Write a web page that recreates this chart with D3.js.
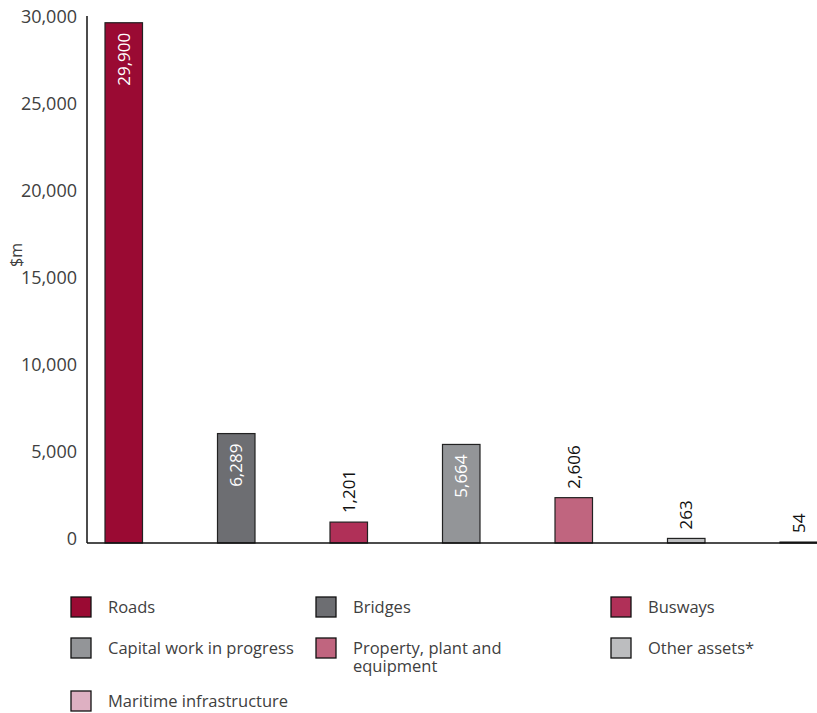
<!DOCTYPE html>
<html>
<head>
<meta charset="utf-8">
<script src="https://cdn.jsdelivr.net/npm/d3@7"></script>
<style>
  html, body { margin: 0; padding: 0; background: #fff; }
  svg { display: block; font-family: "Open Sans", "Noto Sans", sans-serif; }
</style>
</head>
<body>
<svg id="chart" width="817" height="713"></svg>
<script>
// Asset categories and their values ($m)
const categories = [
  "Roads",
  "Bridges",
  "Busways",
  "Capital work in progress",
  "Property, plant and equipment",
  "Other assets*",
  "Maritime infrastructure"
];
const values = [29900, 6289, 1201, 5664, 2606, 263, 54];
const colors = ["#9a0a33", "#6d6e72", "#b03058", "#939598", "#c0657f", "#bcbdbf", "#deb0c2"];
// Labels that sit inside the bar (white) vs above it (dark)
const labelInside = [true, true, false, true, false, false, false];
const yTicks = [0, 5000, 10000, 15000, 20000, 25000, 30000];
const yAxisTitle = "$m";

// Legend label lines per entry
const legendLines = [
  ["Roads"],
  ["Bridges"],
  ["Busways"],
  ["Capital work in progress"],
  ["Property, plant and", "equipment"],
  ["Other assets*"],
  ["Maritime infrastructure"]
];

const svg = d3.select("#chart");
const fmt = d3.format(",");

const x0 = 87, yBase = 543, yTop = 21;

const x = d3.scaleBand()
  .domain(categories)
  .range([x0, 835.5])
  .paddingInner(2 / 3)
  .paddingOuter(0.16);

const y = d3.scaleLinear().domain([0, 30000]).range([yBase, yTop]);

// Y axis: labels only, with a solid vertical line
const yAxis = d3.axisLeft(y).tickValues(yTicks).tickFormat(fmt).tickSize(0).tickPadding(10);
const gy = svg.append("g").attr("transform", `translate(${x0},0)`).call(yAxis);
gy.attr("font-size", null).attr("font-family", null);
gy.select(".domain").remove();
gy.selectAll("text")
  .attr("fill", "#404040")
  .style("font-size", "18px")
  .attr("dy", "0.1em");

svg.append("line")
  .attr("x1", x0).attr("x2", x0)
  .attr("y1", 16).attr("y2", yBase)
  .attr("stroke", "#111").attr("stroke-width", 1.5);

// Bars
svg.append("g").selectAll("rect")
  .data(categories)
  .join("rect")
  .attr("x", d => x(d))
  .attr("y", (d, i) => y(values[i]))
  .attr("width", x.bandwidth())
  .attr("height", (d, i) => yBase - y(values[i]))
  .attr("fill", (d, i) => colors[i])
  .attr("stroke", "#222")
  .attr("stroke-width", 1.2);

// X axis baseline
svg.append("line")
  .attr("x1", x0).attr("x2", 817)
  .attr("y1", yBase).attr("y2", yBase)
  .attr("stroke", "#111").attr("stroke-width", 1.5);

// Rotated value labels
svg.append("g").selectAll("text")
  .data(categories)
  .join("text")
  .attr("transform", (d, i) => {
    const cx = x(d) + x.bandwidth() / 2;
    const yy = labelInside[i] ? y(values[i]) + 10 : y(values[i]) - 9;
    return `translate(${cx + 6},${yy}) rotate(-90)`;
  })
  .attr("text-anchor", (d, i) => labelInside[i] ? "end" : "start")
  .attr("fill", (d, i) => labelInside[i] ? "#ffffff" : "#111")
  .style("font-size", "17px")
  .text((d, i) => fmt(values[i]));

// Y axis title
svg.append("text")
  .attr("transform", "translate(22,255) rotate(-90)")
  .attr("text-anchor", "middle")
  .attr("fill", "#404040")
  .style("font-size", "16px")
  .text(yAxisTitle);

// Legend: three columns
const colX = [71, 316, 611];
const rowY = [597, 638, 691];
const legend = svg.append("g").selectAll("g")
  .data(categories)
  .join("g")
  .attr("transform", (d, i) => `translate(${colX[i % 3]},${rowY[Math.floor(i / 3)]})`);

legend.append("rect")
  .attr("width", 20).attr("height", 20)
  .attr("fill", (d, i) => colors[i])
  .attr("stroke", "#111").attr("stroke-width", 1.3);

legend.append("text")
  .attr("x", 37)
  .attr("y", 16)
  .attr("fill", "#404040")
  .style("font-size", "16.5px")
  .each(function (d, i) {
    const t = d3.select(this);
    legendLines[i].forEach((line, k) => {
      t.append("tspan").attr("x", 37).attr("dy", k === 0 ? 0 : 18).text(line);
    });
  });
</script>
</body>
</html>
